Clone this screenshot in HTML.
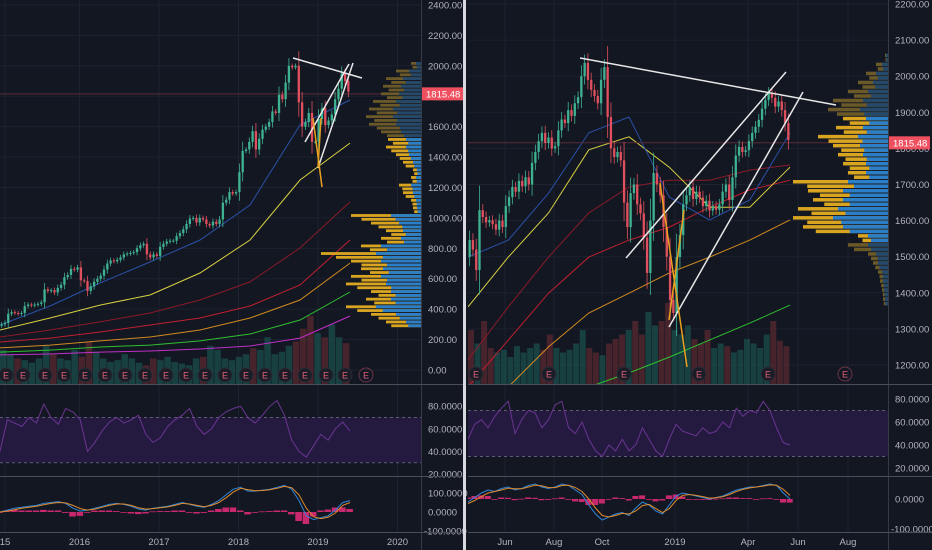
<!DOCTYPE html>
<html><head><meta charset="utf-8">
<style>
html,body{margin:0;padding:0;background:#131722;}
svg{display:block;font-family:"Liberation Sans",sans-serif;}
</style></head>
<body>
<svg id="c" width="932" height="550" viewBox="0 0 932 550" xmlns="http://www.w3.org/2000/svg">
<rect x="0" y="0" width="932" height="550" fill="#131722"/>
</svg>
<script>
// ===== LEFT PANEL DATA (semi-monthly closes, Jan 2015 - May 2019) =====
const leftCloses = [300,310,370,380,375,370,375,420,430,425,430,435,445,530,520,525,510,540,560,610,625,665,660,675,
590,585,520,550,580,600,620,660,700,720,715,725,740,760,765,770,775,800,820,830,760,740,760,750,
810,830,845,850,850,880,900,925,960,995,1000,970,1000,990,960,950,975,960,990,1100,1120,1170,1160,1170,
1300,1440,1450,1500,1570,1450,1520,1580,1600,1630,1700,1690,1810,1780,1890,2000,1990,2000,1760,1600,1630,1690,1500,1500,
1650,1720,1610,1640,1680,1780,1850,1950,1900,1830];
const leftVolumes = [40,35,30,28,25,30,45,35,30,28,40,32,50,38,30,26,28,35,30,25,22,30,28,32,26,24,22,30,32,45,40,30,28,32,35,42,40,55,35,38,45,50,65,80,60,55,70,55,48];
const leftMaBlue = [296,421,572,710,855,1085,1611,1775];
const leftMaYellow = [263,342,427,493,638,855,1249,1492];
const leftMaDarkRed = [217,263,316,375,460,579,802,1105];
const leftMaRed = [184,210,250,296,342,421,559,855];
const leftMaOrange = [145,164,191,217,263,342,460,703];
const leftMaGreen = [118,131,151,164,191,237,329,513];
const leftMaMagenta = [99,105,118,125,138,158,210,355];
const leftProfileLevels = [2000,1950,1900,1850,1800,1750,1700,1650,1600,1550,1500,1450,1400,1350,1300,1250,1200,1150,1100,1050,1000,950,900,850,800,750,700,650,600,550,500,450,400,350,300];
const leftProfileTotal = [10,25,35,38,40,48,52,55,52,40,33,35,25,18,8,10,22,18,10,8,70,50,35,40,60,100,70,60,70,75,50,55,75,50,35];
const leftProfileUp = [5,12,18,20,22,25,28,28,25,20,15,15,12,8,4,5,10,8,5,4,30,22,18,20,40,45,40,38,40,35,30,30,45,25,15];
const leftPriceTicks = [2400,2200,2000,1800,1600,1400,1200,1000,800,600,400,200,0];
const leftTimeLabels = ["15","2016","2017","2018","2019","2020"];
const leftTimeYears = [2015,2016,2017,2018,2019,2020];
const leftRsi = [40,68,65,62,70,65,82,70,64,78,75,68,40,48,58,66,70,65,68,72,55,48,52,62,68,72,78,62,55,60,70,75,78,80,70,65,72,80,85,72,50,40,35,45,55,50,60,66,58];
const leftMacd = [0,10,20,25,30,35,45,50,55,45,20,5,10,20,30,40,45,40,30,15,10,20,25,30,40,50,40,30,25,40,60,90,120,130,110,110,115,120,130,140,120,60,-20,-40,-30,-20,10,50,60];
const leftSignal = [0,5,12,20,25,30,38,45,50,48,35,18,10,15,25,35,42,42,35,22,15,18,22,27,35,45,42,35,28,35,50,75,105,125,118,112,113,117,125,135,128,90,20,-25,-35,-28,-5,35,50];
const leftRsiTicks = [80,60,40,20];
const leftMacdTicks = [100,0,-100];

// ===== RIGHT PANEL DATA (approx. every 2.5 trading days, May 2018 - May 2019) =====
const rightCloses = [1546,1520,1463,1629,1610,1595,1601,1590,1575,1600,1582,1640,1665,1693,1680,1710,1695,1720,1700,1760,1790,1820,1843,1815,1830,1800,1806,1850,1880,1870,1906,1890,1925,1942,2000,2037,1990,1962,1945,1925,1990,2025,1887,1800,1776,1790,1767,1650,1582,1676,1700,1645,1620,1553,1455,1600,1732,1700,1670,1582,1500,1380,1344,1499,1560,1645,1670,1693,1660,1680,1664,1640,1655,1628,1640,1630,1645,1680,1700,1657,1720,1780,1804,1790,1795,1820,1843,1860,1879,1910,1934,1953,1940,1916,1930,1906,1870,1823];
const rightVolumes = [60,45,70,40,35,38,30,42,35,40,45,38,55,40,35,38,45,60,40,35,32,45,50,55,60,70,55,80,65,70,90,60,55,65,50,45,60,40,45,42,35,38,50,45,40,55,70,48,42];
const rightMaBlue = [1499,1546,1676,1843,1887,1665,1602,1657,1843];
const rightMaYellow = [1361,1499,1621,1796,1832,1748,1637,1637,1748];
const rightMaDarkRed = [1214,1361,1499,1621,1693,1712,1712,1740,1754];
const rightMaRed = [1139,1269,1399,1499,1546,1582,1637,1685,1712];
const rightMaOrange = [1084,1139,1250,1344,1399,1455,1499,1546,1602];
const rightMaGreen = [1000,1040,1080,1139,1178,1222,1269,1316,1366];
const rightProfileLevels = [2050,2025,2000,1975,1950,1925,1900,1875,1850,1825,1800,1775,1750,1725,1700,1675,1650,1625,1600,1575,1550,1525,1500,1475,1450,1425,1400,1375];
const rightProfileTotal = [3,12,22,30,40,55,60,45,52,70,55,50,45,40,95,80,75,90,95,85,30,40,20,15,10,8,6,5];
const rightProfileUp = [2,6,12,15,20,25,28,22,25,30,28,25,22,22,40,45,45,50,55,45,20,20,12,10,6,5,4,3];
const rightPriceTicks = [2200,2100,2000,1900,1800,1700,1600,1500,1400,1300,1200];
const rightTimeLabels = ["Jun","Aug","Oct","2019","Apr","Jun","Aug"];
const rightRsi = [45,58,62,55,65,72,78,50,62,70,68,55,62,75,78,55,50,60,45,35,30,40,35,45,35,40,55,45,35,30,45,58,52,50,48,55,50,52,60,55,72,65,70,68,78,70,55,42,40];
const rightMacd = [-10,5,20,30,25,35,40,30,35,45,50,40,35,40,50,45,30,15,-20,-50,-70,-60,-50,-45,-55,-30,-10,-20,-40,-50,-20,10,20,15,10,5,0,5,10,20,30,35,40,40,45,50,45,20,0];
const rightSignal = [-15,-5,8,20,25,30,36,34,34,40,46,44,38,38,45,46,38,25,0,-30,-55,-60,-55,-48,-50,-40,-22,-18,-32,-45,-32,-5,12,15,12,8,3,4,8,15,25,32,37,40,43,47,46,32,12];
const rightRsiTicks = [80,60,40,20];
const rightMacdTicks = [0,-100];

const NS="http://www.w3.org/2000/svg";
const svg=document.getElementById('c');
function mk(tag,attrs,parent){const e=document.createElementNS(NS,tag);for(const k in attrs)e.setAttribute(k,attrs[k]);(parent||svg).appendChild(e);return e;}
function pts(xs,ys){return xs.map((x,i)=>x.toFixed(1)+','+ys[i].toFixed(1)).join(' ');}

function drawPanel(P){
  const g=mk('g',{});
  
  
  const clip=mk('clipPath',{id:P.name+'-clip'},g);
  mk('rect',{x:P.x0,y:0,width:P.axisX-P.x0,height:384},clip);
  const clip2=mk('clipPath',{id:P.name+'-clip2'},g);
  mk('rect',{x:P.x0,y:385,width:P.axisX-P.x0,height:147},clip2);
  const py=p=>P.py(p);
  P.priceTicks.forEach(t=>{const l=mk('line',{x1:P.x0,x2:P.axisX,y1:py(t),y2:py(t),stroke:'#1d2130','stroke-width':1},g);
    });
  P.timeX.forEach(x=>{const l=mk('line',{x1:x,x2:x,y1:0,y2:532,stroke:'#1d2130','stroke-width':1},g);
    });
  const main=mk('g',{'clip-path':'url(#'+P.name+'-clip)'},g);
  // volume
  const nV=P.volumes.length, vw=(P.xEnd-P.x0)/nV;
  P.volumes.forEach((v,i)=>{
    const ci=Math.min(P.closes.length-1,Math.round((i+1)*P.closes.length/nV)-1);
    const cj=Math.max(0,Math.round(i*P.closes.length/nV)-1);
    const up=P.closes[ci]>=P.closes[cj];
    const h=v*P.volScale;
    const r=mk('rect',{x:P.x0+i*vw,y:384-h,width:Math.max(1,vw-0.6),height:h,fill:up?'#1b4f4c':'#5a2830',opacity:0.75},main);
    
  });
  P.mas.forEach(m=>{
    const n=m.vals.length;const xs=m.vals.map((_,i)=>P.x0+i*(P.xEnd-P.x0)/(n-1));
    const l=mk('polyline',{points:pts(xs,m.vals.map(py)),fill:'none',stroke:m.color,'stroke-width':1},main);
    
  });
  const lp=mk('line',{x1:P.x0,x2:P.axisX,y1:py(1815.48),y2:py(1815.48),stroke:'#5a2a36','stroke-width':1},main);
  
  const n=P.closes.length, cw=(P.xEnd-P.x0)/n;
  P.closes.forEach((c,i)=>{
    const o=i?P.closes[i-1]:c*0.97;const up=c>=o;
    const hi=Math.max(o,c)+Math.abs(c-o)*0.35+P.wick, lo=Math.min(o,c)-Math.abs(c-o)*0.35-P.wick;
    const x=P.x0+i*cw+cw/2;const col=up?'#3fb391':'#e0505e';
    const w=mk('line',{x1:x,x2:x,y1:py(hi),y2:py(lo),stroke:col,'stroke-width':0.8},main);
    
    const b=mk('rect',{x:x-cw*0.35,y:py(Math.max(o,c)),width:cw*0.7,height:Math.max(1,py(Math.min(o,c))-py(Math.max(o,c))),fill:col},main);
    
  });
  P.profLevels.forEach((lv,i)=>{
    const bright=lv>=P.brightLo&&lv<=P.brightHi;
    const yT=py(lv+P.profStep/2),full=py(lv-P.profStep/2)-yT;
    const t=P.profTotal[i],u=P.profUp[i];
    const drawPair=(yy,hh,sc)=>{
      const r1=mk('rect',{x:P.axisX-t*sc,y:yy,width:t*sc,height:hh,fill:bright?'#d9a520':'#6b5a28'},main);
      
      const r2=mk('rect',{x:P.axisX-u*sc,y:yy,width:u*sc,height:hh,fill:bright?'#2a7fc8':'#24496b'},main);
      
    };
    const hh=Math.max(1,full/2-1);
    drawPair(yT,hh,1);
    drawPair(yT+full/2,hh,0.85);
  });
  P.lines.forEach(L=>{const l=mk('line',{x1:L[0],y1:L[1],x2:L[2],y2:L[3],stroke:L[4],'stroke-width':1.5},main);
    });
  P.earn.forEach((x,i)=>{
    const hollow=i===P.earn.length-1;
    const c=mk('circle',{cx:x,cy:P.earnY,r:7,fill:hollow?'none':'#1a1c26',stroke:hollow?'#6a3545':'#2a2c38','stroke-width':1},g);
    
    const t=mk('text',{x:x,y:P.earnY+3.5,'font-size':9,fill:'#e0607a','text-anchor':'middle'},g);t.textContent='E';
    
  });
  const ax=mk('line',{x1:P.axisX+0.5,x2:P.axisX+0.5,y1:0,y2:550,stroke:'#363a45'},g);
  
  P.priceTicks.forEach(t=>{const y=py(t);if(y<3||y>380)return;
    const tx=mk('text',{x:P.axisX+7,y:y+3.5,'font-size':9.5,fill:'#b2b5be'},g);tx.textContent=t.toFixed(2);
    });
  const pl=mk('rect',{x:P.axisX+1,y:py(1815.48)-6.5,width:41,height:13,fill:'#ef5060'},g);
  
  const plt=mk('text',{x:P.axisX+5,y:py(1815.48)+3.5,'font-size':9.5,fill:'#ffffff'},g);plt.textContent='1815.48';
  
  const sub=mk('g',{'clip-path':'url(#'+P.name+'-clip2)'},g);
  const ry=P.rsiY;
  const band=mk('rect',{x:P.x0,y:ry(70),width:P.axisX-P.x0,height:ry(30)-ry(70),fill:'#241a40'},sub);
  
  [70,30].forEach(v=>{const l=mk('line',{x1:P.x0,x2:P.axisX,y1:ry(v),y2:ry(v),stroke:'#5e5a78','stroke-dasharray':'3,3'},sub);
    });
  const nr=P.rsi.length;const rx=P.rsi.map((_,i)=>P.x0+i*(P.xEnd-P.x0)/(nr-1));
  const rl=mk('polyline',{points:pts(rx,P.rsi.map(ry)),fill:'none',stroke:'#6a3590','stroke-width':1},sub);
  
  P.rsiTicks.forEach(t=>{const tx=mk('text',{x:P.axisX+7,y:ry(t)+3.5,'font-size':9.5,fill:'#b2b5be'},g);tx.textContent=t.toFixed(4);
    });
  const my=P.macdY;
  const nm=P.macd.length;const mxs=P.macd.map((_,i)=>P.x0+i*(P.xEnd-P.x0)/(nm-1));const bw=(P.xEnd-P.x0)/(nm-1);
  P.macd.forEach((v,i)=>{const h=(v-P.signal[i])*P.histScale;const y0=my(0);
    const r=mk('rect',{x:mxs[i]-bw/2,y:Math.min(y0,y0-h),width:bw*0.9,height:Math.max(0.8,Math.abs(h)),fill:'#c8286e'},sub);
    });
  const ml=mk('polyline',{points:pts(mxs,P.macd.map(my)),fill:'none',stroke:'#2f86d8','stroke-width':1},sub);
  
  const sl=mk('polyline',{points:pts(mxs,P.signal.map(my)),fill:'none',stroke:'#e08a2a','stroke-width':1},sub);
  
  P.macdTicks.forEach(t=>{const tx=mk('text',{x:P.axisX+(t<0?3:7),y:my(t)+3.5,'font-size':9.5,fill:'#b2b5be'},g);tx.textContent=t.toFixed(4);
    });
  [384.5,476.5,532.5].forEach(y=>{const l=mk('line',{x1:P.x0,x2:P.axisX+45,y1:y,y2:y,stroke:'#4a4e5a'},g);
    });
  P.timeLabels.forEach((s,i)=>{const tx=mk('text',{x:P.timeX[i],y:545,'font-size':9.5,fill:'#b2b5be','text-anchor':'middle'},g);tx.textContent=s;
    });
}

const Lyear=y=>0+(y-2015)*79.5;
drawPanel({name:'left-chart-panel',x0:0,xEnd:350,axisX:421,
  py:p=>370-p*0.1521,closes:leftCloses,volumes:leftVolumes,volScale:0.85,wick:12,
  mas:[{name:'ma-magenta',vals:leftMaMagenta,color:'#c030c8'},{name:'ma-green',vals:leftMaGreen,color:'#30c030'},
       {name:'ma-orange',vals:leftMaOrange,color:'#d08a20'},{name:'ma-red',vals:leftMaRed,color:'#c02030'},
       {name:'ma-dark-red',vals:leftMaDarkRed,color:'#8a1a28'},{name:'ma-yellow',vals:leftMaYellow,color:'#d8d040'},
       {name:'ma-blue',vals:leftMaBlue,color:'#2a50a8'}],
  profLevels:leftProfileLevels,profTotal:leftProfileTotal,profUp:leftProfileUp,profStep:50,brightLo:0,brightHi:1500,
  lines:[[293,58,362,78,'#e8e8e8','trendline-top'],[305,142,349,64,'#e8e8e8','channel-line-1'],[318,168,353,63,'#e8e8e8','channel-line-2'],
         [313,118,322,187,'#e8a020','orange-line-1'],[318,167,321,118,'#e8a020','orange-line-2']],
  earn:[6,23,45,64,85,105,125,145,166,186,205,225,246,265,285,305,326,345,366],earnY:375,
  priceTicks:leftPriceTicks,timeLabels:leftTimeLabels,timeX:leftTimeYears.map(Lyear).map((x,i)=>i===0?5:x),
  rsi:leftRsi,rsiY:v=>474-(v-20)*1.13,rsiTicks:leftRsiTicks,
  macd:leftMacd,signal:leftSignal,macdY:v=>512-v*0.19,macdTicks:leftMacdTicks,histScale:0.3});

drawPanel({name:'right-chart-panel',x0:468,xEnd:790,axisX:888,
  py:p=>365-(p-1200)*0.361,closes:rightCloses,volumes:rightVolumes,volScale:0.9,wick:10,
  mas:[{name:'ma-green',vals:rightMaGreen,color:'#30c030'},{name:'ma-orange',vals:rightMaOrange,color:'#d08a20'},
       {name:'ma-red',vals:rightMaRed,color:'#c02030'},{name:'ma-dark-red',vals:rightMaDarkRed,color:'#8a1a28'},
       {name:'ma-yellow',vals:rightMaYellow,color:'#d8d040'},{name:'ma-blue',vals:rightMaBlue,color:'#2a50a8'}],
  profLevels:rightProfileLevels,profTotal:rightProfileTotal,profUp:rightProfileUp,profStep:25,brightLo:1550,brightHi:1875,
  lines:[[580,58,836,105,'#e8e8e8','trendline-top'],[626,258,786,72,'#e8e8e8','channel-line-1'],[669,327,803,92,'#e8e8e8','channel-line-2'],
         [660,183,687,367,'#e8a020','orange-line-1'],[669,320,684,210,'#e8a020','orange-line-2']],
  earn:[476,549,624,699,768,845],earnY:374,
  priceTicks:rightPriceTicks,timeLabels:rightTimeLabels,timeX:[505,554,602,675,748,798,848],
  rsi:rightRsi,rsiY:v=>468-(v-20)*1.15,rsiTicks:rightRsiTicks,
  macd:rightMacd,signal:rightSignal,macdY:v=>499-v*0.3,macdTicks:rightMacdTicks,histScale:0.3});

const dv=mk('rect',{x:463,y:0,width:3,height:550,fill:'#d8dae0'});


</script>
</body></html>
